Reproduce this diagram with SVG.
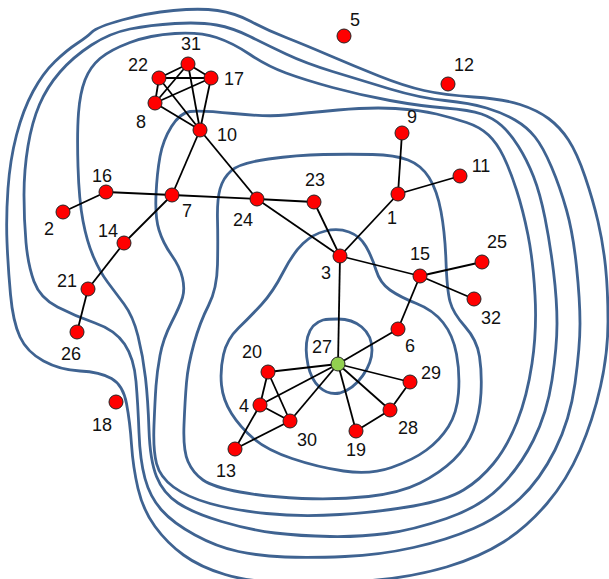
<svg xmlns="http://www.w3.org/2000/svg" width="609" height="579" viewBox="0 0 609 579">
<style>
.c{fill:none;stroke:#3f6391;stroke-width:2.8}
.e{stroke:#000;stroke-width:1.8}
.n{fill:#ff0000;stroke:#222;stroke-width:1}
.g{fill:#92d050;stroke:#222;stroke-width:1}
text{font-family:"Liberation Sans",Arial,sans-serif;font-size:18px;fill:#111;text-anchor:middle}
</style>
<rect width="609" height="579" fill="#fff"/>
<g id="contours">
<path class="c" d="M92,32 Q97,27 122,20 Q147,13 173.5,10.5 Q200,8 217.5,10.5 Q235,13 251,21.5 Q267,30 286,37.5 Q305,45 329.5,55.5 Q354,66 379,76 Q404,86 424,90.5 Q444,95 473.5,97 Q503,99 520,104.5 Q537,110 548.5,118.5 Q560,127 568.5,140 Q577,153 585,176.5 Q593,200 598,221.5 Q603,243 605.5,266.5 Q608,290 608,321.5 Q608,353 600.5,386.5 Q593,420 580,450 Q567,480 547,503.5 Q527,527 503.5,542 Q480,557 446.5,567 Q413,577 371.5,580.5 Q330,584 290,583 Q250,582 225,574.5 Q200,567 183.5,555 Q167,543 155,526.5 Q143,510 138,488.5 Q133,467 131.5,444.5 Q130,422 126.5,403.5 Q123,385 111.5,378.5 Q100,372 80,371 Q60,370 43.5,361 Q27,352 20,337 Q13,322 10.5,294.5 Q8,267 7,242 Q6,217 8,188.5 Q10,160 16.5,135 Q23,110 33,91.5 Q43,73 55,61.5 Q67,50 77,43.5 Q87,37 92,32 Z"/>
<path class="c" d="M91.5,45 Q110,33 130,29 Q150,25 175,23.5 Q200,22 216.5,25 Q233,28 250,36.5 Q267,45 286,54 Q305,63 332.5,71.5 Q360,80 390,89 Q420,98 445,100.5 Q470,103 486.5,108 Q503,113 515,120 Q527,127 535,137 Q543,147 551.5,167 Q560,187 566.5,210 Q573,233 576.5,266.5 Q580,300 580,323.5 Q580,347 575,383.5 Q570,420 555,450 Q540,480 520,498.5 Q500,517 473.5,528.5 Q447,540 413.5,547.5 Q380,555 345,556.5 Q310,558 285,557 Q260,556 238.5,551.5 Q217,547 195,535 Q173,523 161.5,510 Q150,497 145,478.5 Q140,460 139,432.5 Q138,405 136,381.5 Q134,358 124.5,344 Q115,330 95,323 Q75,316 57.5,307 Q40,298 34,281.5 Q28,265 26,242.5 Q24,220 24,195 Q24,170 28,146 Q32,122 39.5,104.5 Q47,87 60,72 Q73,57 91.5,45 Z"/>
<path class="c" d="M100,58.5 Q110,50 130,42.5 Q150,35 175,33.5 Q200,32 216.5,37.5 Q233,43 250,54.5 Q267,66 286,73 Q305,80 332.5,87.5 Q360,95 390,100.5 Q420,106 445,108 Q470,110 481.5,114 Q493,118 501.5,125.5 Q510,133 518.5,146.5 Q527,160 533.5,176.5 Q540,193 545,218 Q550,243 553.5,271.5 Q557,300 557,323.5 Q557,347 552,380 Q547,413 533.5,440 Q520,467 500,487 Q480,507 446.5,518.5 Q413,530 386.5,533.5 Q360,537 330,536.5 Q300,536 275,533 Q250,530 221.5,521.5 Q193,513 178,503 Q163,493 156.5,476.5 Q150,460 149,430 Q148,400 145.5,378 Q143,356 138,336 Q133,316 124,304 Q115,292 107.5,282 Q100,272 93.5,257 Q87,242 83,221 Q79,200 78,166.5 Q77,133 78.5,113 Q80,93 85,80 Q90,67 100,58.5 Z"/>
<path class="c" d="M190,111.5 Q200,110 233.5,113.5 Q267,117 286,115 Q305,113 338,110 Q371,107 395.5,108.5 Q420,110 436.5,114 Q453,118 466.5,122.5 Q480,127 488.5,135 Q497,143 503.5,156.5 Q510,170 516.5,190 Q523,210 528,235 Q533,260 535,295 Q537,330 532,363.5 Q527,397 517,422 Q507,447 493.5,463.5 Q480,480 463.5,490 Q447,500 413.5,506 Q380,512 340,514.5 Q300,517 266.5,513.5 Q233,510 210,503.5 Q187,497 173.5,487 Q160,477 156.5,463.5 Q153,450 154,425 Q155,400 156,386 Q157,372 160,355.5 Q163,339 171.5,322.5 Q180,306 182.5,297.5 Q185,289 182.5,278 Q180,267 171.5,255 Q163,243 159,230 Q155,217 156,195 Q157,173 160,156.5 Q163,140 171.5,126.5 Q180,113 190,111.5 Z"/>
<path class="c" d="M231.5,170.5 Q240,163 268.5,159 Q297,155 323.5,154.5 Q350,154 372.5,154.5 Q395,155 408,160 Q421,165 429,177.5 Q437,190 441,211.5 Q445,233 446,261.5 Q447,290 450,301.5 Q453,313 465,326.5 Q477,340 479.5,356.5 Q482,373 481,393 Q480,413 473.5,430 Q467,447 453.5,460 Q440,473 420,483 Q400,493 368.5,496.5 Q337,500 302,498.5 Q267,497 240,492 Q213,487 203,480 Q193,473 188,461.5 Q183,450 184,425 Q185,400 186.5,382.5 Q188,365 194,343.5 Q200,322 208.5,305.5 Q217,289 217.5,264.5 Q218,240 217.5,220 Q217,200 220,189 Q223,178 231.5,170.5 Z"/>
<path class="c" d="M325.5,231 Q338,228 349,232 Q360,236 366,246.5 Q372,257 376,270 Q380,283 390,290 Q400,297 416.5,303.5 Q433,310 443,322.5 Q453,335 456.5,354 Q460,373 458.5,393 Q457,413 448.5,426.5 Q440,440 426.5,450 Q413,460 391.5,467.5 Q370,475 343.5,471 Q317,467 292,458.5 Q267,450 253.5,438.5 Q240,427 231.5,413.5 Q223,400 221.5,385 Q220,370 223.5,354.5 Q227,339 238.5,328 Q250,317 261.5,304.5 Q273,292 283,272.5 Q293,253 303,243.5 Q313,234 325.5,231 Z"/>
<path class="c" d="M338,319 C356,319 372,330 372,350 C372,366 358,388 340,393 C324,396 312,384 308,365 C304,345 306,325 323,320 C328,319 333,319 338,319 Z"/>
</g>
<g id="edges">
<line class="e" x1="159" y1="78" x2="188" y2="64"/>
<line class="e" x1="159" y1="78" x2="211" y2="78"/>
<line class="e" x1="159" y1="78" x2="155" y2="103"/>
<line class="e" x1="159" y1="78" x2="200" y2="130"/>
<line class="e" x1="188" y1="64" x2="211" y2="78"/>
<line class="e" x1="188" y1="64" x2="155" y2="103"/>
<line class="e" x1="188" y1="64" x2="200" y2="130"/>
<line class="e" x1="211" y1="78" x2="155" y2="103"/>
<line class="e" x1="211" y1="78" x2="200" y2="130"/>
<line class="e" x1="155" y1="103" x2="200" y2="130"/>
<line class="e" x1="200" y1="130" x2="172" y2="195"/>
<line class="e" x1="200" y1="130" x2="257" y2="199"/>
<line class="e" x1="106" y1="192" x2="63" y2="212"/>
<line class="e" x1="106" y1="192" x2="172" y2="195"/>
<line class="e" x1="172" y1="195" x2="257" y2="199"/>
<line class="e" x1="172" y1="195" x2="124" y2="243"/>
<line class="e" x1="124" y1="243" x2="88" y2="289"/>
<line class="e" x1="88" y1="289" x2="77" y2="332"/>
<line class="e" x1="257" y1="199" x2="314" y2="202"/>
<line class="e" x1="257" y1="199" x2="340" y2="256"/>
<line class="e" x1="314" y1="202" x2="340" y2="256"/>
<line class="e" x1="340" y1="256" x2="398" y2="194"/>
<line class="e" x1="398" y1="194" x2="402" y2="133"/>
<line class="e" x1="398" y1="194" x2="460" y2="176"/>
<line class="e" x1="340" y1="256" x2="420" y2="276"/>
<line class="e" x1="420" y1="276" x2="482" y2="262"/>
<line class="e" x1="420" y1="276" x2="474" y2="299"/>
<line class="e" x1="420" y1="276" x2="398" y2="329"/>
<line class="e" x1="340" y1="256" x2="338" y2="364"/>
<line class="e" x1="338" y1="364" x2="398" y2="329"/>
<line class="e" x1="338" y1="364" x2="268" y2="372"/>
<line class="e" x1="338" y1="364" x2="260" y2="405"/>
<line class="e" x1="338" y1="364" x2="290" y2="421"/>
<line class="e" x1="338" y1="364" x2="356" y2="431"/>
<line class="e" x1="338" y1="364" x2="390" y2="410"/>
<line class="e" x1="338" y1="364" x2="410" y2="382"/>
<line class="e" x1="410" y1="382" x2="390" y2="410"/>
<line class="e" x1="390" y1="410" x2="356" y2="431"/>
<line class="e" x1="268" y1="372" x2="260" y2="405"/>
<line class="e" x1="268" y1="372" x2="290" y2="421"/>
<line class="e" x1="260" y1="405" x2="290" y2="421"/>
<line class="e" x1="260" y1="405" x2="235" y2="449"/>
<line class="e" x1="235" y1="449" x2="290" y2="421"/>
</g>
<g id="n31"><circle class="n" cx="188" cy="64" r="7"/><text x="191" y="50">31</text></g>
<g id="n22"><circle class="n" cx="159" cy="78" r="7"/><text x="138" y="71">22</text></g>
<g id="n17"><circle class="n" cx="211" cy="78" r="7"/><text x="234" y="85">17</text></g>
<g id="n8"><circle class="n" cx="155" cy="103" r="7"/><text x="141" y="128">8</text></g>
<g id="n10"><circle class="n" cx="200" cy="130" r="7"/><text x="227" y="141">10</text></g>
<g id="n16"><circle class="n" cx="106" cy="192" r="7"/><text x="102" y="182">16</text></g>
<g id="n2"><circle class="n" cx="63" cy="212" r="7"/><text x="49" y="235">2</text></g>
<g id="n7"><circle class="n" cx="172" cy="195" r="7"/><text x="187" y="217">7</text></g>
<g id="n24"><circle class="n" cx="257" cy="199" r="7"/><text x="243" y="226">24</text></g>
<g id="n14"><circle class="n" cx="124" cy="243" r="7"/><text x="108" y="237">14</text></g>
<g id="n21"><circle class="n" cx="88" cy="289" r="7"/><text x="67" y="287">21</text></g>
<g id="n26"><circle class="n" cx="77" cy="332" r="7"/><text x="71" y="360">26</text></g>
<g id="n18"><circle class="n" cx="116" cy="402" r="7"/><text x="102" y="431">18</text></g>
<g id="n5"><circle class="n" cx="344" cy="36" r="7"/><text x="355" y="26">5</text></g>
<g id="n12"><circle class="n" cx="448" cy="84" r="7"/><text x="464" y="71">12</text></g>
<g id="n9"><circle class="n" cx="402" cy="133" r="7"/><text x="412" y="123">9</text></g>
<g id="n11"><circle class="n" cx="460" cy="176" r="7"/><text x="481" y="172">11</text></g>
<g id="n1"><circle class="n" cx="398" cy="194" r="7"/><text x="392" y="224">1</text></g>
<g id="n23"><circle class="n" cx="314" cy="202" r="7"/><text x="315" y="186">23</text></g>
<g id="n3"><circle class="n" cx="340" cy="256" r="7"/><text x="326" y="279">3</text></g>
<g id="n15"><circle class="n" cx="420" cy="276" r="7"/><text x="420" y="260">15</text></g>
<g id="n25"><circle class="n" cx="482" cy="262" r="7"/><text x="497" y="248">25</text></g>
<g id="n32"><circle class="n" cx="474" cy="299" r="7"/><text x="491" y="324">32</text></g>
<g id="n6"><circle class="n" cx="398" cy="329" r="7"/><text x="410" y="352">6</text></g>
<g id="n27"><circle class="g" cx="338" cy="364" r="7"/><text x="322" y="353">27</text></g>
<g id="n29"><circle class="n" cx="410" cy="382" r="7"/><text x="431" y="379">29</text></g>
<g id="n28"><circle class="n" cx="390" cy="410" r="7"/><text x="408" y="434">28</text></g>
<g id="n19"><circle class="n" cx="356" cy="431" r="7"/><text x="356" y="456">19</text></g>
<g id="n20"><circle class="n" cx="268" cy="372" r="7"/><text x="252" y="358">20</text></g>
<g id="n4"><circle class="n" cx="260" cy="405" r="7"/><text x="244" y="412">4</text></g>
<g id="n30"><circle class="n" cx="290" cy="421" r="7"/><text x="307" y="446">30</text></g>
<g id="n13"><circle class="n" cx="235" cy="449" r="7"/><text x="226" y="477">13</text></g>
</svg>
